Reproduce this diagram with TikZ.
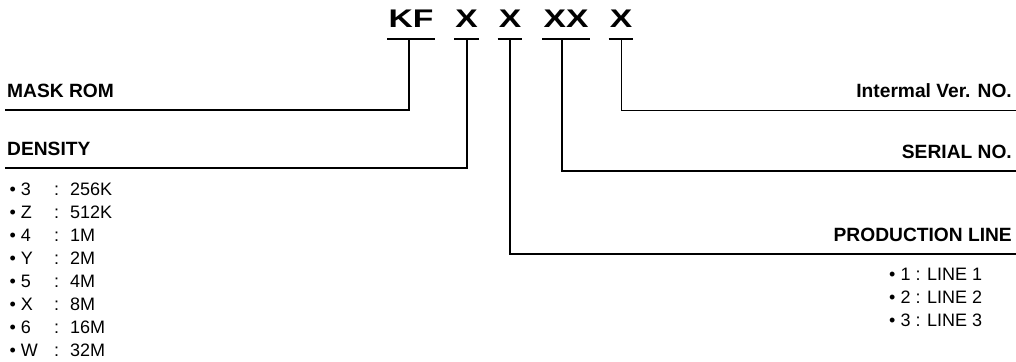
\documentclass[tikz,border=0pt]{standalone}
\usepackage{fontspec}
\setmainfont{Liberation Sans}
\begin{document}
\begin{tikzpicture}[x=1pt,y=-1pt,
  titlech/.style={anchor=base,inner sep=0pt,font=\fontsize{25.5}{26}\selectfont\bfseries},
  lbl/.style={inner sep=0pt,font=\fontsize{19.2}{21}\selectfont\bfseries},
  item/.style={inner sep=0pt,anchor=base west,font=\fontsize{18}{20}\selectfont},
  uline/.style={line width=2.7pt},
  conn/.style={line width=1.3pt}]
\useasboundingbox (0,0) rectangle (1016,361);
% title characters
\node[titlech] (kf) at (411,28) {\scalebox{1.32}[1]{KF}};
\node[titlech] (x1) at (466.5,28) {\scalebox{1.32}[1]{X}};
\node[titlech] (x2) at (510,28) {\scalebox{1.32}[1]{X}};
\node[titlech] (xx) at (566,28) {\scalebox{1.32}[1]{XX}};
\node[titlech] (x5) at (621,28) {\scalebox{1.32}[1]{X}};
\foreach \n in {kf,x1,x2,xx,x5}{
  \draw[uline] ([xshift=-1pt,yshift=-11pt]\n.base west) -- ([xshift=1pt,yshift=-11pt]\n.base east);
}
% labels
\node[lbl,anchor=base west] (mask) at (7,97) {MASK ROM};
\node[lbl,anchor=base west] (dens) at (7,155) {DENSITY};
\node[lbl,anchor=base east] (ver) at (1012,97) {Intermal Ver. NO.};
\node[lbl,anchor=base east] (ser) at (1012,158) {SERIAL NO.};
\node[lbl,anchor=base east] (prod) at (1012,241) {PRODUCTION LINE};
% line ends
\coordinate (maskL) at (5,110);
\coordinate (densL) at (5,168);
\coordinate (verR) at (1016,110.5);
\coordinate (serR) at (1016,171);
\coordinate (prodR) at (1016,254);
% connectors
\draw[conn] ([xshift=-2pt,yshift=-11pt]kf.base) |- (maskL);
\draw[conn] ([xshift=0.5pt,yshift=-11pt]x1.base) |- (densL);
\draw[conn] ([yshift=-11pt]x2.base) |- (prodR);
\draw[conn] ([xshift=-4pt,yshift=-11pt]xx.base) |- (serR);
\draw[conn] ([xshift=0.5pt,yshift=-11pt]x5.base) |- (verR);
% density list
\foreach \c/\v [count=\i from 0] in {3/256K,Z/512K,4/1M,Y/2M,5/4M,X/8M,6/16M,W/32M}{
  \node[item] (db\i) at (9.5,195+23.1*\i) {• \c};
  \node[item] (dc\i) at (54,195+23.1*\i) {:};
  \node[item] (dv\i) at (70,195+23.1*\i) {\v};
}
% production list
\foreach \c [count=\i from 0] in {1,2,3}{
  \node[item] (p\i) at (889,280+23*\i) {• \c\ : LINE \c};
}
\end{tikzpicture}
\end{document}
